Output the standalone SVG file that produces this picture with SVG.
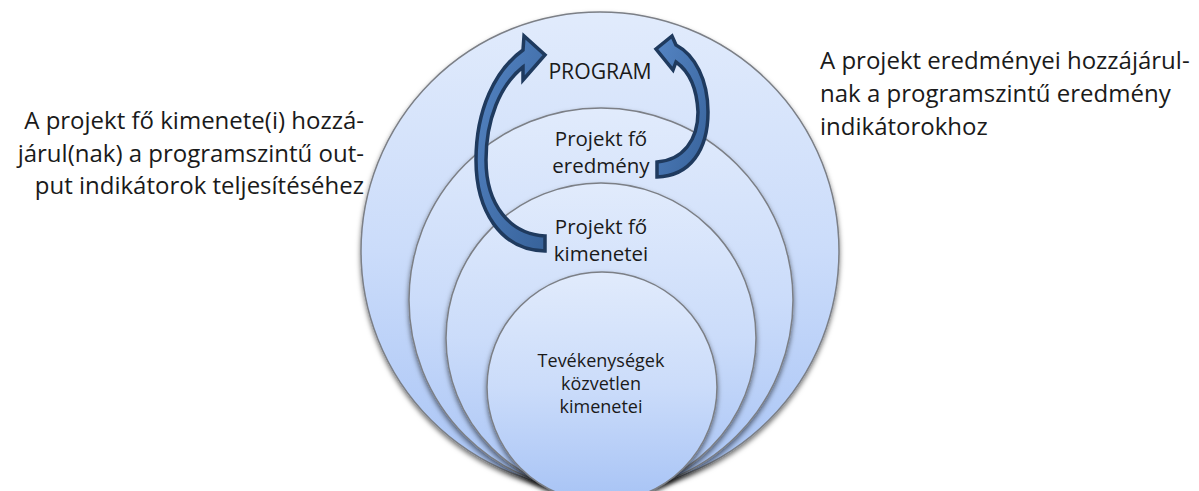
<svg xmlns="http://www.w3.org/2000/svg" width="1199" height="491" viewBox="0 0 1199 491">
<defs>
<linearGradient id="cg" x1="0" y1="0" x2="0" y2="1">
<stop offset="0" stop-color="#e1ebfc"/>
<stop offset="0.5" stop-color="#cbdcfa"/>
<stop offset="1" stop-color="#a7c3f5"/>
</linearGradient>
<linearGradient id="ag" x1="0" y1="0" x2="1" y2="1">
<stop offset="0" stop-color="#5585c4"/>
<stop offset="1" stop-color="#37629a"/>
</linearGradient>
<filter id="sh" x="-10%" y="-10%" width="120%" height="125%">
<feDropShadow dx="0" dy="3" stdDeviation="2.5" flood-color="#000" flood-opacity="0.55"/>
</filter>
</defs>
<style>
.c{fill:url(#cg);stroke:#7b7f86;stroke-width:1.5;filter:url(#sh)}
.a{fill:url(#ag);stroke:#1f3a5e;stroke-width:3.5;stroke-linejoin:miter}
.t{font-family:"Open Sans","Noto Sans",sans-serif;fill:#1a1a1a;text-anchor:middle}
.s{font-family:"Open Sans","Noto Sans",sans-serif;fill:#1a1a1a;font-size:24px}
</style>
<rect width="1199" height="491" fill="#ffffff"/>
<g id="program"><circle class="c" cx="600" cy="251" r="239"/></g>
<g id="eredmeny"><circle class="c" cx="601" cy="300" r="192"/></g>
<g id="kimenetei"><circle class="c" cx="601" cy="338" r="155"/></g>
<g id="tevekenysegek"><circle class="c" cx="602" cy="387" r="115"/></g>
<g id="labels">
<text class="t" x="600" y="79" font-size="21.2">PROGRAM</text>
<text class="t" x="601" y="146" font-size="20.5">Projekt fő</text>
<text class="t" x="601" y="173" font-size="20.5">eredmény</text>
<text class="t" x="601" y="234" font-size="20.5">Projekt fő</text>
<text class="t" x="601" y="261" font-size="20.5">kimenetei</text>
<text class="t" x="601" y="367" font-size="18">Tevékenységek</text>
<text class="t" x="601" y="390" font-size="18">közvetlen</text>
<text class="t" x="601" y="413" font-size="18">kimenetei</text>
</g>
<g id="connectors">
<path class="a" d="M545 251 C500 250 476 210 476 160 C476 110 495 70 523 50 L524 36 L545 55 L523 80 L523 67 C500 85 486 120 486 160 C486 205 510 234 545 236 Z"/>
<path class="a" d="M657 177 C690 176 708 150 708 112 C708 80 695 55 676 45 L672 36 L656 49 L673 70 L676 62 C690 72 697 90 698 112 C698 140 683 160 657 162 Z"/>
</g>
<g id="note-left">
<text class="s" x="364" y="129" text-anchor="end">A projekt fő kimenete(i) hozzá-</text>
<text class="s" x="364" y="162" text-anchor="end">járul(nak) a programszintű out-</text>
<text class="s" x="364" y="194" text-anchor="end">put indikátorok teljesítéséhez</text>
</g>
<g id="note-right">
<text class="s" x="820" y="69">A projekt eredményei hozzájárul-</text>
<text class="s" x="820" y="102">nak a programszintű eredmény</text>
<text class="s" x="820" y="135">indikátorokhoz</text>
</g>
</svg>
